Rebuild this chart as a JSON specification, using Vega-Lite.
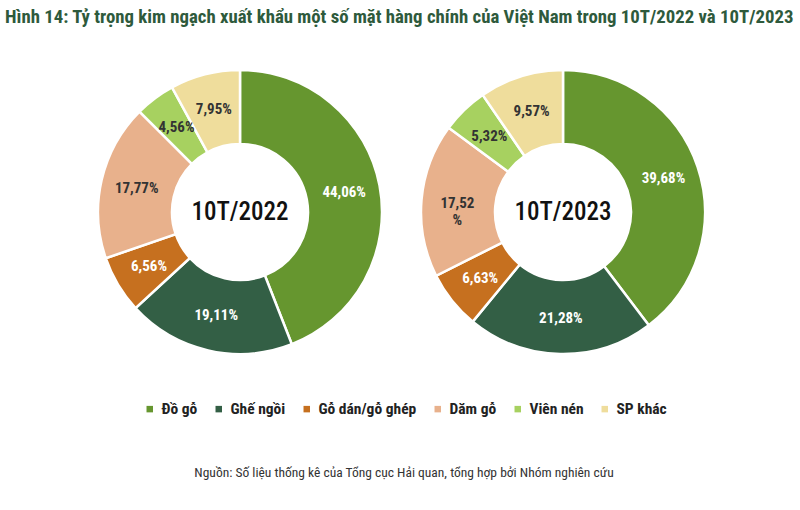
{
  "$schema": "https://vega.github.io/schema/vega-lite/v6.json",
  "padding": {"left": 5, "top": 8, "right": 0, "bottom": 0},
  "background": "white",
  "bounds": "flush",
  "title": {
    "text": "Hình 14: Tỷ trọng kim ngạch xuất khẩu một số mặt hàng chính của Việt Nam trong 10T/2022 và 10T/2023",
    "anchor": "start",
    "font": "'Roboto Condensed', 'DejaVu Sans Condensed', Roboto",
    "fontSize": 18.8,
    "fontWeight": "bold",
    "color": "#2e5a3c",
    "offset": 12
  },
  "datasets": {
    "shares": [
      {"period": "10T/2022", "item": "Đồ gỗ", "idx": 1, "share": 44.06, "label": "44,06%"},
      {"period": "10T/2022", "item": "Ghế ngồi", "idx": 2, "share": 19.11, "label": "19,11%"},
      {"period": "10T/2022", "item": "Gỗ dán/gỗ ghép", "idx": 3, "share": 6.56, "label": "6,56%"},
      {"period": "10T/2022", "item": "Dăm gỗ", "idx": 4, "share": 17.77, "label": "17,77%"},
      {"period": "10T/2022", "item": "Viên nén", "idx": 5, "share": 4.56, "label": "4,56%"},
      {"period": "10T/2022", "item": "SP khác", "idx": 6, "share": 7.95, "label": "7,95%"},
      {"period": "10T/2023", "item": "Đồ gỗ", "idx": 1, "share": 39.68, "label": "39,68%"},
      {"period": "10T/2023", "item": "Ghế ngồi", "idx": 2, "share": 21.28, "label": "21,28%"},
      {"period": "10T/2023", "item": "Gỗ dán/gỗ ghép", "idx": 3, "share": 6.63, "label": "6,63%"},
      {"period": "10T/2023", "item": "Dăm gỗ", "idx": 4, "share": 17.52, "label": "17,52 %"},
      {"period": "10T/2023", "item": "Viên nén", "idx": 5, "share": 5.32, "label": "5,32%"},
      {"period": "10T/2023", "item": "SP khác", "idx": 6, "share": 9.57, "label": "9,57%"}
    ]
  },
  "spacing": 0,
  "hconcat": [
    {
      "width": 470,
      "height": 346,
      "data": {"name": "shares"},
      "transform": [{"filter": "datum.period === '10T/2022'"}],
      "layer": [
        {
          "mark": {"type": "arc", "outerRadius": 142, "innerRadius": 68, "stroke": "white", "strokeWidth": 2.5},
          "encoding": {
            "theta": {"field": "share", "type": "quantitative", "stack": true},
            "order": {"field": "idx", "type": "quantitative"},
            "color": {
              "field": "item", "type": "nominal",
              "scale": {"domain": ["Đồ gỗ", "Ghế ngồi", "Gỗ dán/gỗ ghép", "Dăm gỗ", "Viên nén", "SP khác"],
                        "range": ["#66962f", "#335f45", "#c6701f", "#e8b18c", "#a7d160", "#efdd9c"]},
              "legend": {
                "orient": "none", "legendX": 137, "legendY": 362, "direction": "horizontal",
                "symbolType": "square", "symbolSize": 42, "symbolStrokeWidth": 0, "labelOffset": 4,
                "labelFont": "'Roboto Condensed', 'DejaVu Sans Condensed', Roboto", "labelFontSize": 15.5, "labelFontWeight": "bold", "labelColor": "#222222",
                "columnPadding": 13, "labelLimit": 300,
                "title": "Nguồn: Số liệu thống kê của Tổng cục Hải quan, tổng hợp bởi Nhóm nghiên cứu",
                "titleOrient": "bottom", "titleAnchor": "middle", "titleFont": "'Roboto Condensed', 'DejaVu Sans Condensed', Roboto",
                "titleFontSize": 13.5, "titleFontWeight": "normal", "titleColor": "#333333", "titlePadding": 48, "titleLimit": 800
              }
            }
          }
        },
        {
          "mark": {"type": "text", "radius": 106, "font": "'Roboto Condensed', 'DejaVu Sans Condensed', Roboto", "fontSize": 15, "fontWeight": "bold", "lineBreak": " "},
          "encoding": {
            "theta": {"field": "share", "type": "quantitative", "stack": true},
            "order": {"field": "idx", "type": "quantitative"},
            "detail": {"field": "item", "type": "nominal"},
            "text": {"field": "label", "type": "nominal"},
            "color": {"condition": {"test": "datum.idx <= 3", "value": "white"}, "value": "#333333"}
          }
        },
        {
          "transform": [{"aggregate": [{"op": "count", "as": "n"}], "groupby": ["period"]}],
          "mark": {"type": "text", "font": "'Roboto Condensed', 'DejaVu Sans Condensed', Roboto", "fontSize": 25, "fontWeight": 500, "color": "#111111"},
          "encoding": {"text": {"field": "period", "type": "nominal"}}
        }
      ]
    },
    {
      "width": 176,
      "height": 346,
      "data": {"name": "shares"},
      "transform": [{"filter": "datum.period === '10T/2023'"}],
      "layer": [
        {
          "mark": {"type": "arc", "outerRadius": 142, "innerRadius": 68, "stroke": "white", "strokeWidth": 2.5},
          "encoding": {
            "theta": {"field": "share", "type": "quantitative", "stack": true},
            "order": {"field": "idx", "type": "quantitative"},
            "color": {"field": "item", "type": "nominal"}
          }
        },
        {
          "mark": {"type": "text", "radius": 106, "font": "'Roboto Condensed', 'DejaVu Sans Condensed', Roboto", "fontSize": 15, "fontWeight": "bold", "lineBreak": " "},
          "encoding": {
            "theta": {"field": "share", "type": "quantitative", "stack": true},
            "order": {"field": "idx", "type": "quantitative"},
            "detail": {"field": "item", "type": "nominal"},
            "text": {"field": "label", "type": "nominal"},
            "color": {"condition": {"test": "datum.idx <= 3", "value": "white"}, "value": "#333333"}
          }
        },
        {
          "transform": [{"aggregate": [{"op": "count", "as": "n"}], "groupby": ["period"]}],
          "mark": {"type": "text", "font": "'Roboto Condensed', 'DejaVu Sans Condensed', Roboto", "fontSize": 25, "fontWeight": 500, "color": "#111111"},
          "encoding": {"text": {"field": "period", "type": "nominal"}}
        }
      ]
    }
  ],
  "config": {"view": {"stroke": null}}
}
